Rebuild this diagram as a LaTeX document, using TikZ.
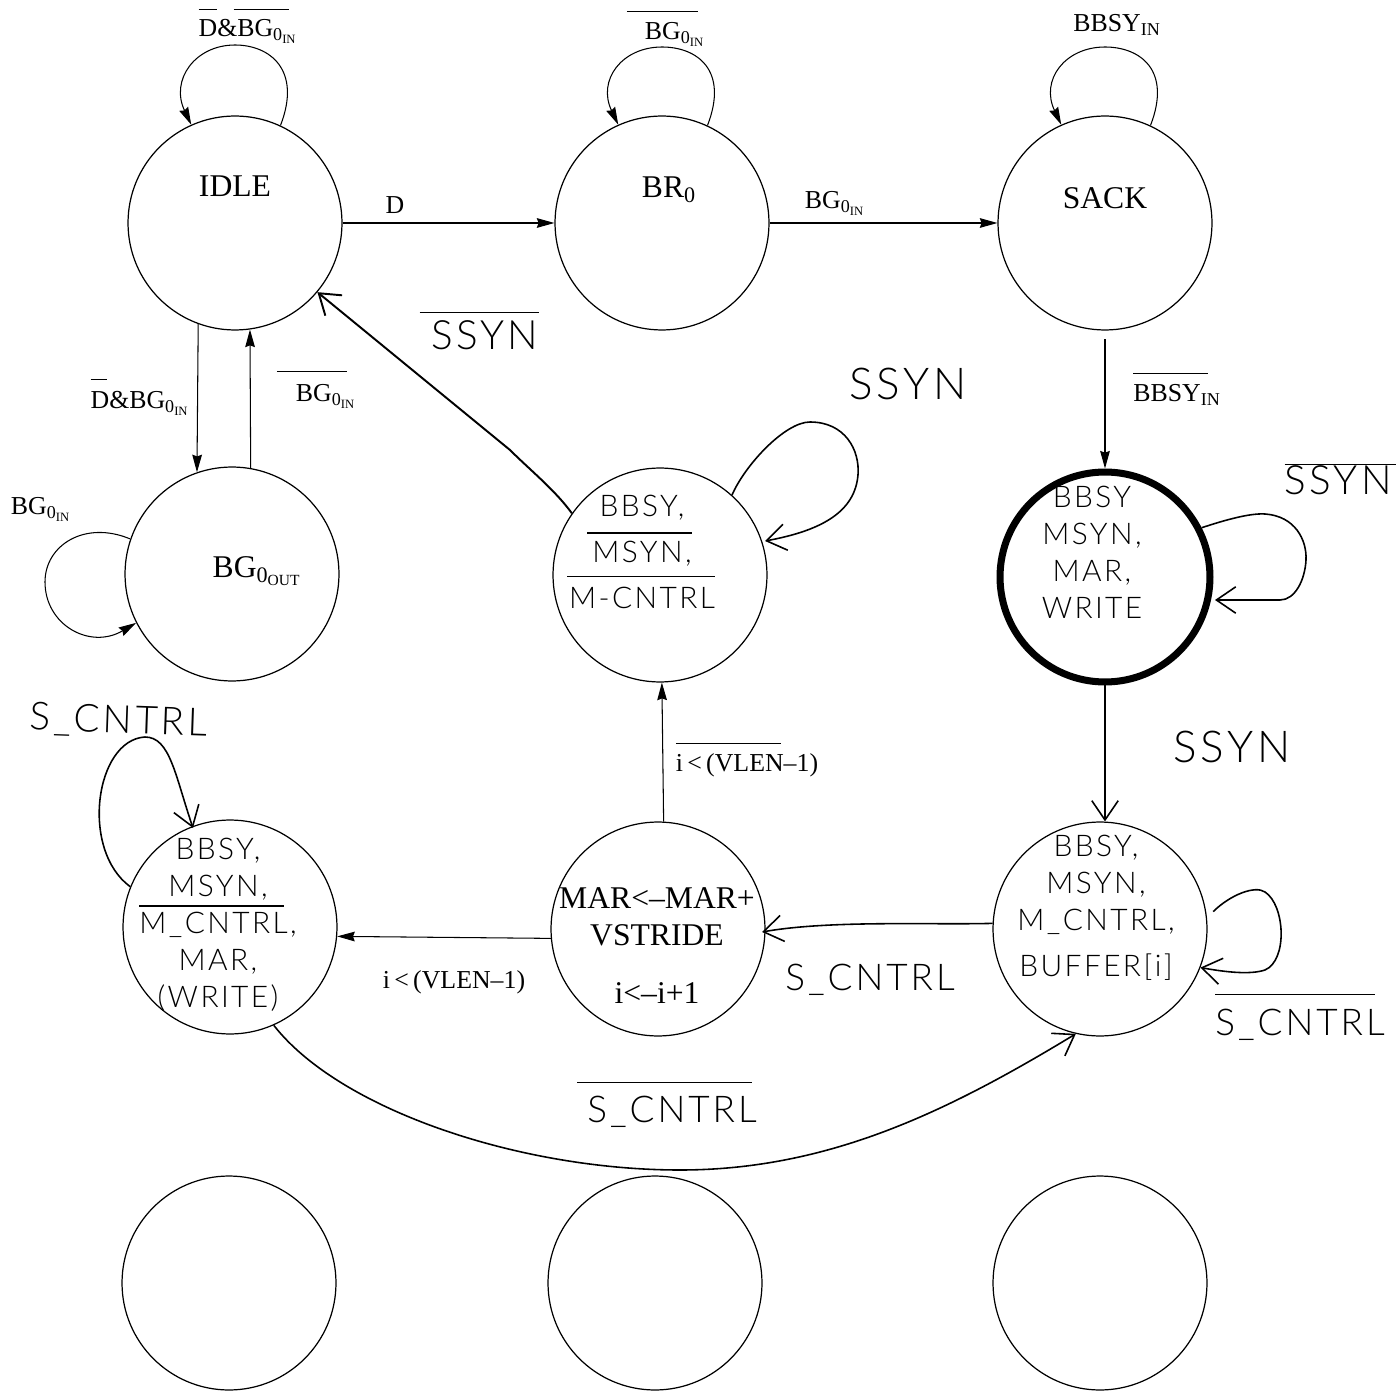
\documentclass[tikz,border=0pt]{standalone}
\usepackage{fontspec}
\usepackage{tikz}
\usetikzlibrary{arrows.meta}
\setmainfont{Liberation Serif}
\newfontfamily\handfont[LetterSpace=8]{Lato Light}
\newdimen\pxu \pxu=0.569pt
% #1 rise, #2 offset, #3 length of the bar over #4
\newcommand{\barred}[4]{\leavevmode\rlap{\smash{\kern#2\pxu\rule[#1\pxu]{#3\pxu}{0.8pt}}}#4}
\newcommand{\bgin}{BG\textsubscript{0\textsubscript{IN}}}

\begin{document}
\begin{tikzpicture}[
    x=0.02cm, y=-0.02cm,
    state/.style={draw, circle, minimum size=4.28cm, inner sep=0pt, line width=0.7pt},
    title/.style={anchor=base, font=\fontsize{18}{21}\selectfont, align=center},
    cond/.style={anchor=base, font=\fontsize{14.7}{17}\selectfont},
    hand/.style={anchor=base, font=\handfont\fontsize{#1}{30}\selectfont},
    handin/.style={font=\handfont\fontsize{17}{21}\selectfont, align=center},
    arrow/.style={-{Stealth[length=10pt,width=5.5pt,inset=1pt]}, line width=0.6pt},
    handarrow/.style={-{Straight Barb[length=11pt,width=15pt]}, line width=0.9pt}
]
    \useasboundingbox (0,0) rectangle (1397,1395);

    % Printed states
    \node[state] (idle) at (235,223) {};
    \node[state] (br) at (662,223) {};
    \node[state] (sack) at (1105,223) {};
    \node[state] (bgout) at (232,574) {};
    \node[title] (idletxt) at (235,197) {IDLE};
    \node[title] (brtxt) at (669,198) {BR\textsubscript{0}};
    \node[title] (sacktxt) at (1105,209) {SACK};
    \node[title] (bgouttxt) at (257,578) {BG\textsubscript{0\textsubscript{OUT}}};

    % Hand written states
    \node[state] (mreq) at (660,575) {};
    \node[state, line width=4pt, minimum size=4.2cm] (wait) at (1105,577) {};
    \node[state] (ctrl) at (230,927) {};
    \node[state] (step) at (658,929) {};
    \node[state] (buf) at (1100,929) {};
    \node[handin] (mreqtxt) at (642,552) {BBSY,\\[5pt]\barred{29}{-5}{105}{MSYN},\\[5pt]\barred{31}{-2}{148}{M-CNTRL}};
    \node[handin] (waittxt) at (1092,552) {BBSY\\MSYN,\\MAR,\\WRITE};
    \node[handin] (ctrltxt) at (218,925) {BBSY,\\MSYN,\\\barred{27}{0}{145}{M\_CNTRL},\\MAR,\\(WRITE)};
    \node[handin] (buftxt) at (1096,908) {BBSY,\\MSYN,\\M\_CNTRL,\\[5pt]BUFFER[i]};
    \node[title] (steptxt) at (657,1003) {MAR<--MAR+\\VSTRIDE\\[12pt]i<--i+1};

    % Empty states
    \node[state] (blanka) at (229,1283) {};
    \node[state] (blankb) at (655,1283) {};
    \node[state] (blankc) at (1100,1283) {};

    % Printed arrows
    \draw[arrow] (idle.east) -- (br.west);
    \draw[arrow] (br.east) -- (sack.west);
    \draw[arrow, shorten <=5pt] (sack.south) -- (wait.north);
    \draw[arrow] (idle.250) -- (bgout.109);
    \draw[arrow] (bgout.80) -- (idle.278);
    \draw[arrow] (step.87) -- (mreq.271);
    \draw[arrow] (step.185) -- (ctrl.-5);
    \draw[arrow] (idle.65) .. controls (302,70) and (270,45) .. (235,45) .. controls (195,45) and (170,80) .. (idle.114);
    \draw[arrow] (br.65) .. controls (729,70) and (697,47) .. (662,47) .. controls (622,47) and (597,80) .. (br.114);
    \draw[arrow] (sack.65) .. controls (1172,70) and (1140,47) .. (1105,47) .. controls (1065,47) and (1040,80) .. (sack.114);
    \draw[arrow] (bgout.161) .. controls (85,520) and (45,545) .. (45,582) .. controls (45,625) and (90,650) .. (bgout.207);

    % Hand drawn arrows
    \draw[handarrow, line width=1.1pt] (mreq.145) .. controls (555,490) and (530,470) .. (510,450) -- (idle.-40);
    \draw[handarrow] (mreq.48) .. controls (745,465) and (785,422) .. (810,422) .. controls (845,422) and (860,450) .. (858,475) .. controls (855,510) and (825,530) .. (765,541);
    \draw[handarrow] (wait.27) .. controls (1225,520) and (1250,513) .. (1265,514) .. controls (1295,516) and (1307,540) .. (1306,560) .. controls (1305,580) and (1295,600) .. (1280,600) -- (1215,600);
    \draw[handarrow] (wait.south) -- (buf.north -| wait.south);
    \draw[handarrow] (buf.177) .. controls (930,925) and (830,920) .. (762,932);
    \draw[handarrow, shorten <=5pt] (buf.6) .. controls (1230,895) and (1255,885) .. (1265,892) .. controls (1285,905) and (1288,960) .. (1265,970) .. controls (1250,975) and (1225,972) .. (buf.-21);
    \draw[handarrow] (ctrl.158) .. controls (80,850) and (95,740) .. (145,737) .. controls (170,737) and (175,775) .. (193,828);
    \draw[handarrow] (ctrl.-66) .. controls (340,1110) and (520,1170) .. (680,1170) .. controls (830,1170) and (950,1110) .. (buf.-103);

    % Printed labels
    \node[cond] (lblidle) at (248,37) {\barred{27}{0}{18}{\barred{27}{35}{55}{D\&\bgin}}};
    \node[cond] (lblbr) at (675,40) {\barred{28}{-18}{71}{\bgin}};
    \node[cond] (lblsack) at (1117,32) {BBSY\textsubscript{IN}};
    \node[cond] (lbld) at (395,214) {D};
    \node[cond] (lblgrant) at (835,209) {\bgin};
    \node[cond] (lblbbsy) at (1177,402) {\barred{28}{0}{75}{BBSY\textsubscript{IN}}};
    \node[cond] (lblback) at (326,402) {\barred{30}{-19}{70}{\bgin}};
    \node[cond] (lbldown) at (140,409) {\barred{29}{0}{16}{D\&\bgin}};
    \node[cond] (lblself) at (41,515) {\bgin};
    \node[cond] (lblup) at (747,771) {\barred{27}{0}{105}{i\,<\,(VLEN--1)}};
    \node[cond] (lblleft) at (454,988) {i\,<\,(VLEN--1)};

    % Hand written labels
    \node[hand=23] (lblssa) at (485,350) {\barred{37}{-12}{120}{SSYN}};
    \node[hand=25] (lblssb) at (908,400) {SSYN};
    \node[hand=23] (lblssc) at (1338,495) {\barred{30}{0}{112}{SSYN}};
    \node[hand=25] (lblssd) at (1232,762) {SSYN};
    \node[hand=22, rotate=-2] (lblsca) at (118,733) {S\_CNTRL};
    \node[hand=21] (lblscb) at (870,990) {S\_CNTRL};
    \node[hand=21] (lblscc) at (1300,1035) {\barred{40}{0}{160}{S\_CNTRL}};
    \node[hand=21] (lblscd) at (672,1122) {\barred{39}{-10}{175}{S\_CNTRL}};

\end{tikzpicture}
\end{document}
